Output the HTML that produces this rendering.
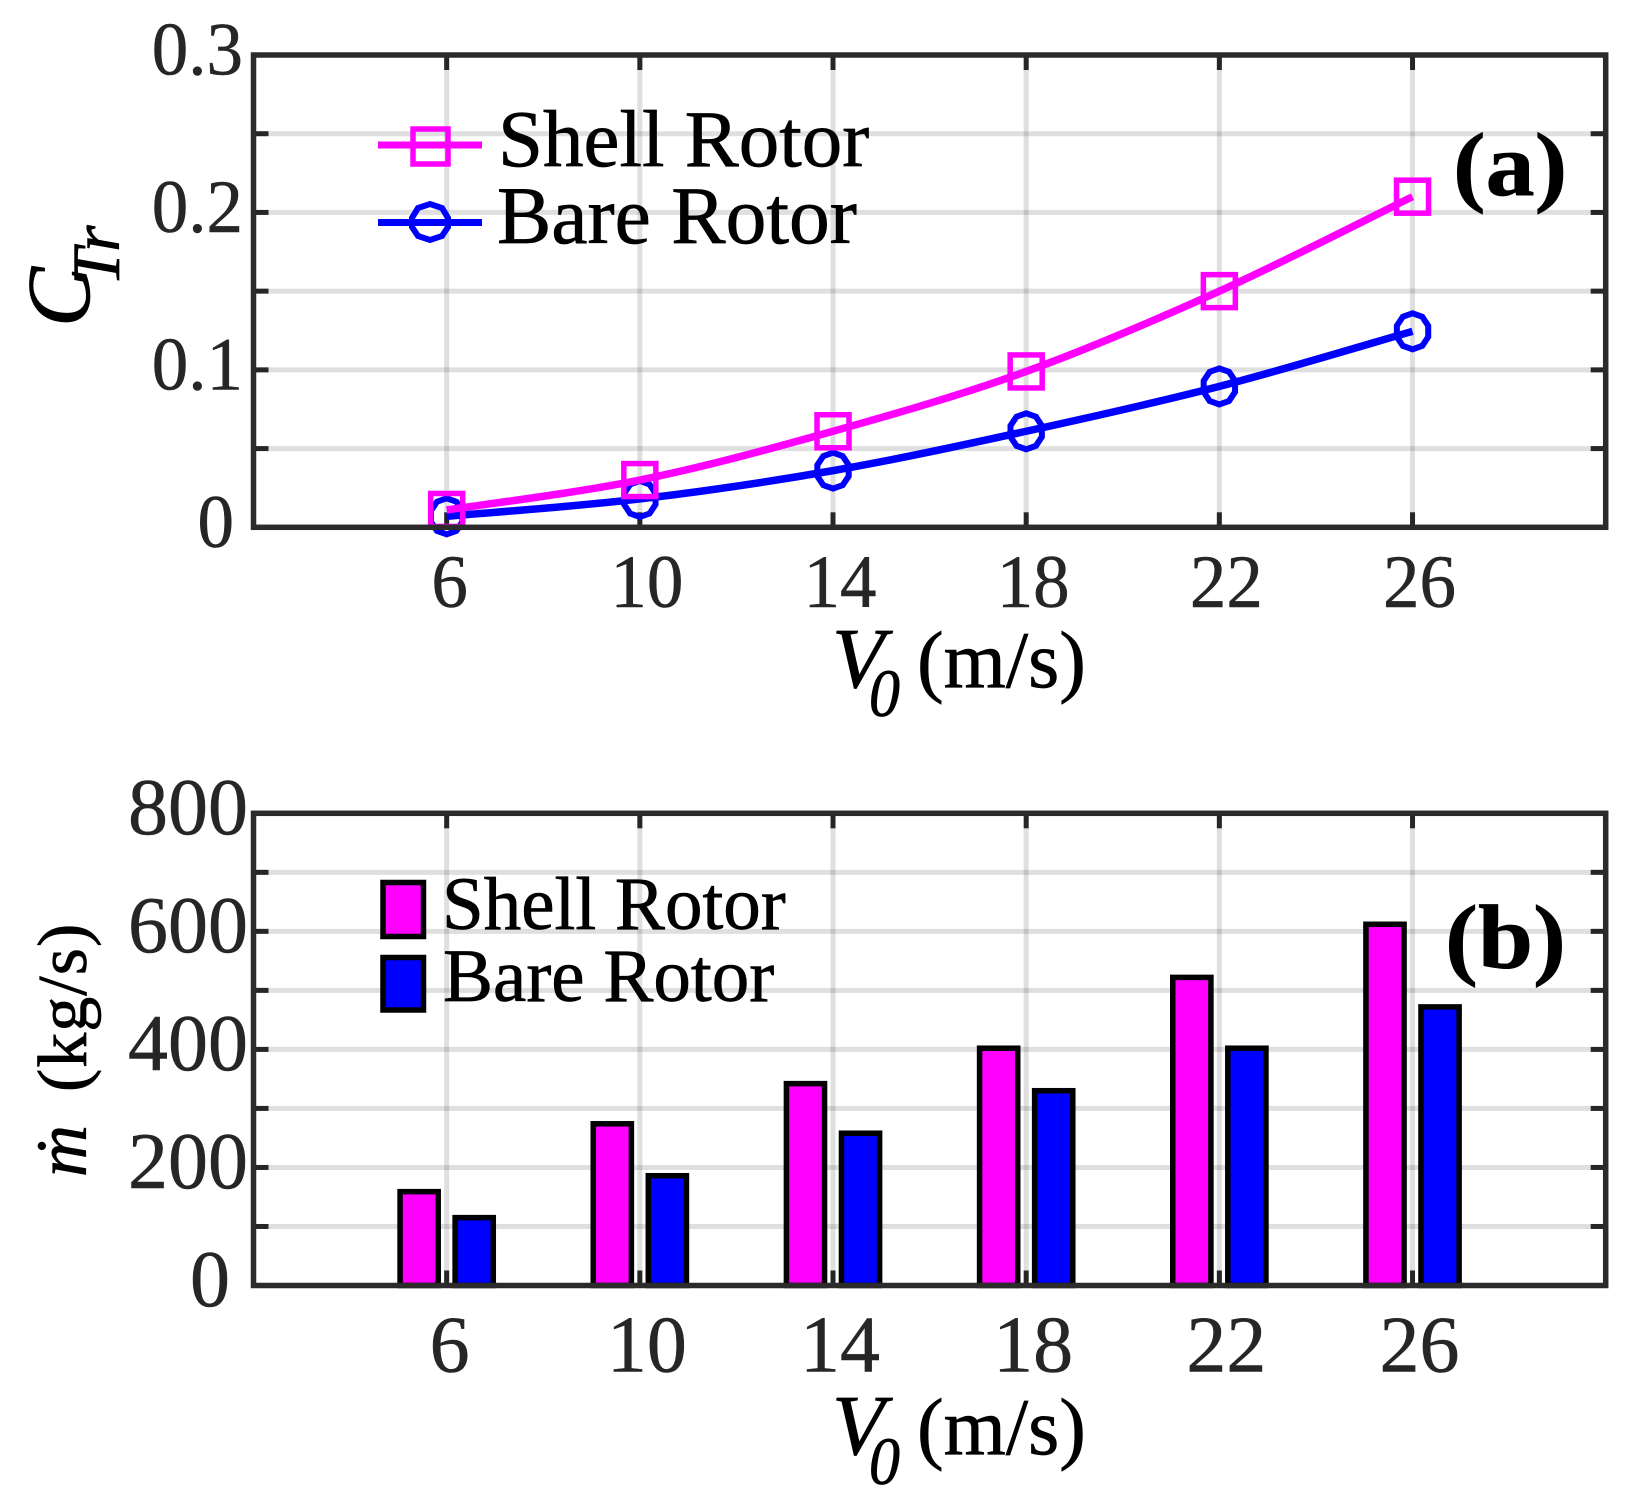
<!DOCTYPE html>
<html lang="en">
<head>
<meta charset="utf-8">
<title>Shell Rotor vs Bare Rotor</title>
<style>
html,body{margin:0;padding:0;background:#fff;width:1646px;height:1502px;overflow:hidden}
svg{display:block}
text{font-family:"Liberation Serif",serif}
.tick{fill:#262626;stroke:#262626;stroke-width:.5}
.lbl{fill:#000;stroke:#000;stroke-width:.7}
</style>
</head>
<body>
<svg id="chart" xmlns="http://www.w3.org/2000/svg" width="1646" height="1502" viewBox="0 0 1646 1502">
  <rect x="0" y="0" width="1646" height="1502" fill="#fff"/>
  <g id="panelA"></g>
  <g id="panelB"></g>

  <g>
    <text class="lbl" transform="translate(89,327) rotate(-90)" font-size="90" font-style="italic">C</text>
    <text class="lbl" transform="translate(119,286) rotate(-90)" font-size="68" font-style="italic">Tr</text>
    <text class="lbl" x="832" y="687" font-size="86" font-style="italic">V</text>
    <text class="lbl" transform="translate(869,716) scale(1,1.1)" font-size="62" font-style="italic">0</text>
    <text class="lbl" x="917" y="687" font-size="80">(m/s)</text>
    <text class="lbl" transform="translate(1453,195) scale(1,.92)" font-size="98" font-weight="bold">(a)</text>
    <line x1="378" x2="482" y1="145" y2="145" stroke="#ff00ff" stroke-width="7"/>
    <rect x="413" y="129" width="35" height="35" fill="none" stroke="#ff00ff" stroke-width="5.5"/>
    <text class="lbl" x="498" y="166" font-size="81">Shell Rotor</text>
    <line x1="378" x2="482" y1="222.5" y2="222.5" stroke="#0000ff" stroke-width="7"/>
    <polygon points="430,204 442,208 448,218 448,227 442,236 430,240 418,236 412,227 412,218 418,208" fill="none" stroke="#0000ff" stroke-width="6"/>
    <text class="lbl" x="497" y="243" font-size="81.5">Bare Rotor</text>
  </g>

  <g>
    <text class="lbl" transform="translate(86,1177) rotate(-90)" font-size="72" font-style="italic">ṁ</text>
    <text class="lbl" transform="translate(86,1092) rotate(-90)" font-size="70" letter-spacing="1">(kg/s)</text>
    <text class="lbl" x="832" y="1454" font-size="86" font-style="italic">V</text>
    <text class="lbl" transform="translate(869,1484) scale(1,1.1)" font-size="62" font-style="italic">0</text>
    <text class="lbl" x="917" y="1454" font-size="80">(m/s)</text>
    <text class="lbl" transform="translate(1445,968) scale(1,.92)" font-size="99" font-weight="bold">(b)</text>
    <rect x="383" y="882.5" width="40.5" height="54" fill="#ff00ff" stroke="#000" stroke-width="5.5"/>
    <text class="lbl" x="442" y="929" font-size="75">Shell Rotor</text>
    <rect x="383" y="957.5" width="40.5" height="52.5" fill="#0000ff" stroke="#000" stroke-width="5.5"/>
    <text class="lbl" x="443" y="1001" font-size="75">Bare Rotor</text>
  </g>
</svg>

<script>
const speeds = [6, 10, 14, 18, 22, 26];
const xTickLabels = ['6', '10', '14', '18', '22', '26'];

const thrustTicks = [0, 0.1, 0.2, 0.3];
const thrustTickLabels = ['0', '0.1', '0.2', '0.3'];
const thrustGrid = [0.05, 0.1, 0.15, 0.2, 0.25];
const thrustShell = [0.011, 0.03, 0.061, 0.099, 0.15, 0.21];
const thrustBare = [0.007, 0.018, 0.036, 0.061, 0.0895, 0.1245];

const massTicks = [0, 200, 400, 600, 800];
const massTickLabels = ['0', '200', '400', '600', '800'];
const massGrid = [100, 200, 300, 400, 500, 600, 700];
const massShell = [159, 274, 342, 402, 522, 612];
const massBare = [115, 186, 258, 330, 402, 472];

const NS = 'http://www.w3.org/2000/svg';
const XMIN = 2, XMAX = 30;
const LEFT = 253.5, RIGHT = 1605.7;
const sx = v => LEFT + (v - XMIN) / (XMAX - XMIN) * (RIGHT - LEFT);

function mk(parent, tag, attrs) {
  const el = document.createElementNS(NS, tag);
  for (const k in attrs) el.setAttribute(k, attrs[k]);
  parent.appendChild(el);
  return el;
}

function frame(parent, top, bottom, sy, gridVals, tickLen) {
  speeds.forEach(v => {
    const g = mk(parent, 'line', {x1: sx(v), x2: sx(v), y1: top, y2: bottom, stroke: 'rgba(38,38,38,0.15)', 'stroke-width': 5});
    
    
  });
  gridVals.forEach(v => {
    const g = mk(parent, 'line', {x1: LEFT, x2: RIGHT, y1: sy(v), y2: sy(v), stroke: 'rgba(38,38,38,0.15)', 'stroke-width': 5});
    
    
  });
  speeds.forEach(v => {
    [[top, top + tickLen], [bottom, bottom - tickLen]].forEach(p => {
      const t = mk(parent, 'line', {x1: sx(v), x2: sx(v), y1: p[0], y2: p[1], stroke: '#262626', 'stroke-width': 5});
      
      
    });
  });
  gridVals.forEach(v => {
    [[LEFT, LEFT + tickLen], [RIGHT, RIGHT - tickLen]].forEach(p => {
      const t = mk(parent, 'line', {x1: p[0], x2: p[1], y1: sy(v), y2: sy(v), stroke: '#262626', 'stroke-width': 5});
      
      
    });
  });
}

function spines(parent, top, bottom) {
  const r = mk(parent, 'rect', {x: LEFT, y: top, width: RIGHT - LEFT, height: bottom - top, fill: 'none', stroke: '#2b2b2b', 'stroke-width': 5.5});
  
  
}

function labelX(parent, baseline, size, stretch) {
  speeds.forEach((v, i) => {
    const t = mk(parent, 'text', {class: 'tick', 'font-size': size, 'text-anchor': 'middle',
      transform: 'translate(' + (sx(v) + (i === 0 ? 3 : 7)) + ',' + baseline + ') scale(1,' + stretch + ')'});
    
    
    t.textContent = xTickLabels[i];
  });
}

function labelY(parent, ticks, labels, sy, right, zeroRight, offset, size, stretch) {
  ticks.forEach((v, i) => {
    const t = mk(parent, 'text', {class: 'tick', 'font-size': size, 'text-anchor': 'end',
      transform: 'translate(' + (v === 0 ? zeroRight : right) + ',' + (sy(v) + offset) + ') scale(1,' + stretch + ')'});
    
    
    t.textContent = labels[i];
  });
}

function smoothPath(pts) {
  let d = 'M' + pts[0][0] + ' ' + pts[0][1];
  for (let i = 0; i < pts.length - 1; i++) {
    const p0 = pts[Math.max(i - 1, 0)], p1 = pts[i], p2 = pts[i + 1], p3 = pts[Math.min(i + 2, pts.length - 1)];
    d += ' C' + (p1[0] + (p2[0] - p0[0]) / 6) + ' ' + (p1[1] + (p2[1] - p0[1]) / 6) + ' ' +
         (p2[0] - (p3[0] - p1[0]) / 6) + ' ' + (p2[1] - (p3[1] - p1[1]) / 6) + ' ' + p2[0] + ' ' + p2[1];
  }
  return d;
}

function octagon(cx, cy, rx, ry) {
  const out = [];
  for (let k = 0; k < 10; k++) {
    const a = Math.PI * 2 * k / 10 - Math.PI / 2;
    out.push((cx + rx * Math.cos(a)) + ',' + (cy + ry * Math.sin(a)));
  }
  return out.join(' ');
}

/* Panel (a) */
const aTop = 55, aBottom = 527.3;
const syA = v => aBottom - v / 0.3 * (aBottom - aTop);
const panelA = document.getElementById('panelA');
frame(panelA, aTop, aBottom, syA, thrustGrid, 15);

const shellPts = speeds.map((v, i) => [sx(v), syA(thrustShell[i])]);
const barePts = speeds.map((v, i) => [sx(v), syA(thrustBare[i])]);

const bareLine = mk(panelA, 'path', {d: smoothPath(barePts), fill: 'none', stroke: '#0000ff', 'stroke-width': 7.5});


barePts.forEach(p => {
  const m = mk(panelA, 'polygon', {points: octagon(p[0], p[1], 16.5, 18), fill: 'none', stroke: '#0000ff', 'stroke-width': 6});
  
  
});
const shellLine = mk(panelA, 'path', {d: smoothPath(shellPts), fill: 'none', stroke: '#ff00ff', 'stroke-width': 7.5});


shellPts.forEach(p => {
  const m = mk(panelA, 'rect', {x: p[0] - 16, y: p[1] - 16.5, width: 32, height: 33, fill: 'none', stroke: '#ff00ff', 'stroke-width': 5.5});
  
  
});
spines(panelA, aTop, aBottom);
labelX(panelA, 607, 73, 1.03);
labelY(panelA, thrustTicks, thrustTickLabels, syA, 243, 234, 19.5, 73, 1.03);

/* Panel (b) */
const bTop = 813.3, bBottom = 1285.5;
const syB = v => bBottom - v / 800 * (bBottom - bTop);
const panelB = document.getElementById('panelB');
frame(panelB, bTop, bBottom, syB, massGrid, 15);

const BAR_OFFSET = 0.57, BAR_WIDTH = 0.79;
speeds.forEach((v, i) => {
  const w = sx(BAR_WIDTH + XMIN) - sx(XMIN);
  const a = mk(panelB, 'rect', {x: sx(v - BAR_OFFSET) - w / 2, y: syB(massShell[i]), width: w, height: bBottom - syB(massShell[i]), fill: '#ff00ff', stroke: '#000', 'stroke-width': 5.5});
  
  
  const b = mk(panelB, 'rect', {x: sx(v + BAR_OFFSET) - w / 2, y: syB(massBare[i]), width: w, height: bBottom - syB(massBare[i]), fill: '#0000ff', stroke: '#000', 'stroke-width': 5.5});
  
  
});
spines(panelB, bTop, bBottom);
labelX(panelB, 1371.7, 80, 1);
labelY(panelB, massTicks, massTickLabels, syB, 248, 230, 20.5, 80, 1);
</script>
</body>
</html>
